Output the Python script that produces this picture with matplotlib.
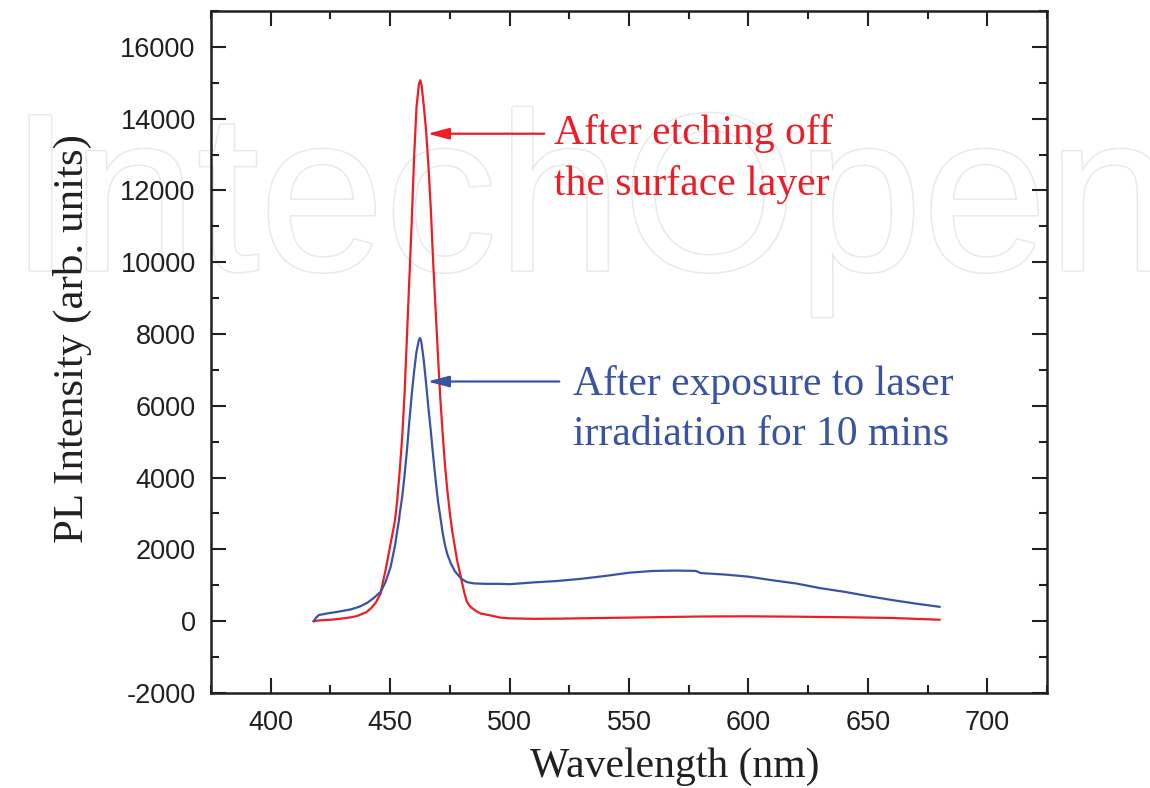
import numpy as np
from matplotlib import pyplot as plt
from matplotlib.ticker import MultipleLocator
import matplotlib.patheffects as pe

plt.rcParams['axes.unicode_minus'] = False

# спектр после травления поверхностного слоя (красный)
wl_etch = [418, 420, 426, 432, 436, 440, 442, 444, 446, 447, 448, 449, 450, 451, 452,
           453, 454, 455, 456, 457, 458, 459, 460, 461, 462, 462.6, 463.2, 464, 465,
           466, 467, 468, 469, 470, 471, 472, 473, 474, 475, 476, 477, 478, 479, 480,
           481, 482, 483, 484, 486, 488, 492, 496, 500, 510, 520, 540, 560, 580, 600,
           620, 640, 660, 680]
pl_etch = [0, 20, 45, 90, 140, 250, 360, 520, 770, 1100, 1400, 1750, 2100, 2450, 2800,
           3400, 4200, 5100, 6300, 7900, 9500, 11100, 12900, 14300, 14950, 15070, 14900,
           14400, 13700, 12700, 11500, 10000, 8700, 7400, 6200, 5200, 4300, 3600, 3000,
           2500, 2100, 1700, 1400, 1100, 800, 560, 450, 380, 280, 210, 160, 100, 80, 65,
           70, 90, 110, 130, 135, 125, 110, 90, 40]

# спектр после облучения лазером 10 мин (синий)
wl_laser = [418, 419, 420.1, 424, 428, 433.4, 437, 440.4, 443, 446, 448, 450.2, 452, 453,
            453.7, 454, 455, 456, 457, 458, 459, 460, 461, 462, 462.5, 463, 464, 465, 466,
            467, 468, 469, 470, 471, 472, 473, 474, 475.4, 477, 479.6, 482, 485, 490, 496,
            500, 510, 520, 530, 540, 550, 560, 570, 578, 580, 590, 600, 610, 620, 630, 640,
            650, 660, 670, 680]
pl_laser = [0, 100, 170, 220, 260, 326, 400, 511, 640, 818, 1080, 1516, 2100, 2540, 2818,
            3000, 3450, 4050, 4750, 5550, 6300, 6950, 7500, 7830, 7890, 7800, 7300, 6650,
            5950, 5300, 4600, 3950, 3350, 2900, 2450, 2100, 1850, 1610, 1400, 1191, 1090,
            1052, 1040, 1040, 1030, 1080, 1120, 1180, 1260, 1350, 1400, 1410, 1400, 1340,
            1300, 1240, 1140, 1050, 920, 820, 700, 590, 490, 400]

red = '#ee1c25'
blue = '#3953a4'
ink = '#231f20'

fig = plt.figure(figsize=(11.5, 7.88), dpi=100)
ax = fig.add_axes([0.1835, 0.1206, 0.727, 0.8655])
ax.set_facecolor('none')

# водяной знак (под всем остальным)
fig.text(0.008, 0.657, 'IntechOpen', fontsize=162, family='Liberation Sans', color='white',
         zorder=-5, path_effects=[pe.withStroke(linewidth=2.2, foreground='#e9e9e9')])

ax.plot(wl_etch, pl_etch, color=red, lw=1.6, zorder=3)
ax.plot(wl_laser, pl_laser, color=blue, lw=1.6, zorder=3)

ax.set_xlim(375, 725)
ax.set_ylim(-2000, 17000)
ax.xaxis.set_minor_locator(MultipleLocator(25))
ax.yaxis.set_minor_locator(MultipleLocator(1000))
ax.set_yticks(np.arange(-2000, 16001, 2000))
ax.set_xticks(np.arange(400, 701, 50))

for s in ax.spines.values():
    s.set_color(ink)
    s.set_linewidth(1.8)
ax.tick_params(which='both', direction='in', top=True, right=True, color=ink, width=1.5)
ax.tick_params(which='major', length=11)
ax.tick_params(which='minor', length=6)
ax.tick_params(axis='x', pad=12)
ax.tick_params(axis='y', pad=11)
for lab in ax.get_xticklabels() + ax.get_yticklabels():
    lab.set_family('Liberation Sans')
    lab.set_fontsize(19.5)
    lab.set_color(ink)

ax.set_xlabel('Wavelength (nm)', family='Liberation Serif', fontsize=30, color=ink)
ax.set_ylabel('PL Intensity (arb. units)', family='Liberation Serif', fontsize=31, color=ink)
ax.xaxis.set_label_coords(0.555, -0.08)
ax.yaxis.set_label_coords(-0.142, 0.52)

# стрелки и подписи
arr = dict(arrowstyle='-|>,head_length=0.65,head_width=0.17', lw=1.6,
           shrinkA=0, shrinkB=0, mutation_scale=20)
ax.annotate('', xy=(465.6, 13580), xytext=(514.5, 13580),
            arrowprops=dict(arr, color=red))
ax.annotate('', xy=(465.6, 6677), xytext=(520.8, 6677),
            arrowprops=dict(arr, color=blue))

tfont = dict(family='Liberation Serif', fontsize=30, va='baseline', ha='left')
ax.text(518.7, 13280, 'After etching off', color=red, **tfont)
ax.text(518.7, 11886, 'the surface layer', color=red, **tfont)
ax.text(526.7, 6305, 'After exposure to laser', color=blue, **tfont)
ax.text(526.7, 4910, 'irradiation for 10 mins', color=blue, **tfont)

fig.savefig('out.png', dpi=100)
